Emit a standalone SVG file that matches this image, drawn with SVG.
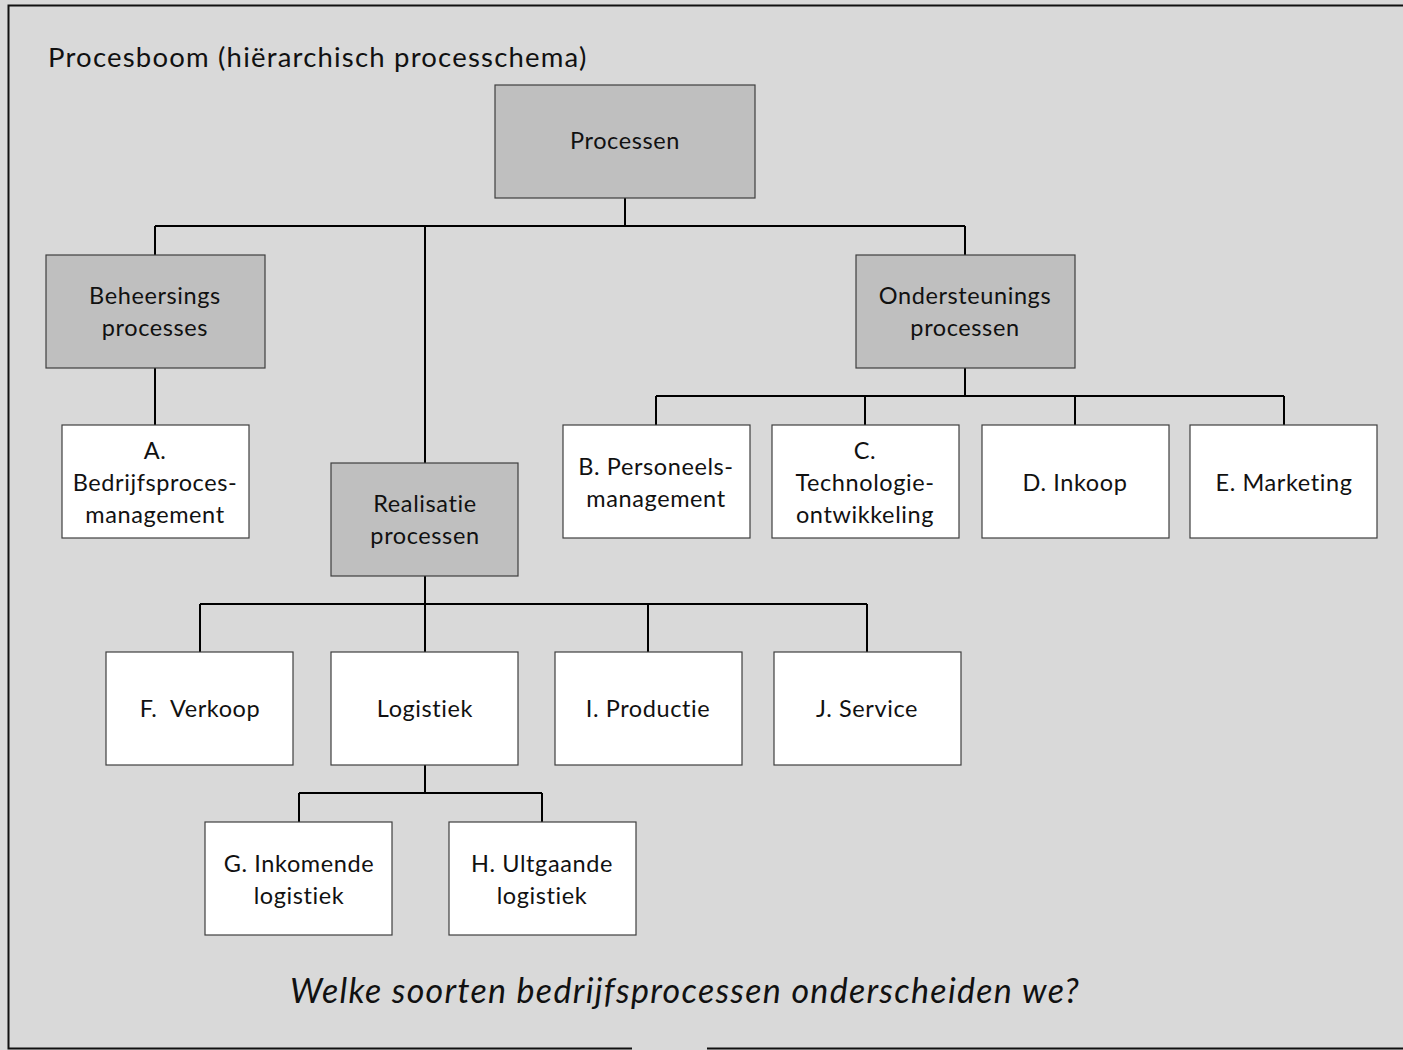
<svg xmlns="http://www.w3.org/2000/svg" width="1403" height="1050" viewBox="0 0 1403 1050">
<style>
.bg{fill:#d9d9d9}
.frame{fill:none;stroke:#111;stroke-width:2}
.n rect{stroke:#3f3f3f;stroke-width:1.2}
.dark rect{fill:#bfbfbf}
.light rect{fill:#ffffff}
.n text{font-family:Lato,"Open Sans",sans-serif;font-size:23.5px;letter-spacing:0.6px;fill:#111;text-anchor:middle}
.c{fill:none;stroke:#000;stroke-width:2}
.title{font-family:Lato,"Open Sans",sans-serif;font-size:27.5px;letter-spacing:1.2px;fill:#111}
.q{font-family:Lato,"Open Sans",sans-serif;font-size:34px;letter-spacing:1.3px;font-style:italic;fill:#111;text-anchor:middle}
</style>
<rect class="bg" x="0" y="0" width="1403" height="1050"/>
<path class="frame" d="M632,1048.5 H8.5 V5.5 H1403 M707,1048.5 H1403"/>
<text class="title" x="48" y="67">Procesboom (hiërarchisch processchema)</text>
<g id="connectors">
<path class="c" d="M625,198 V226 M155,226 H965 M155,226 V255 M425,226 V463 M965,226 V255"/>
<path class="c" d="M155,368 V425"/>
<path class="c" d="M965,368 V396 M656,396 H1284 M656,396 V425 M865,396 V425 M1075,396 V425 M1284,396 V425"/>
<path class="c" d="M425,576 V604 M200,604 H867 M200,604 V652 M425,604 V652 M648,604 V652 M867,604 V652"/>
<path class="c" d="M425,765 V793 M299,793 H542 M299,793 V822 M542,793 V822"/>
</g>
<g id="processen" class="n dark"><rect x="495" y="85" width="260" height="113"/><text x="625" y="149">Processen</text></g>
<g id="beheersings" class="n dark"><rect x="46" y="255" width="219" height="113"/><text x="155" y="304">Beheersings</text><text x="155" y="336">processes</text></g>
<g id="ondersteunings" class="n dark"><rect x="856" y="255" width="219" height="113"/><text x="965" y="304">Ondersteunings</text><text x="965" y="336">processen</text></g>
<g id="realisatie" class="n dark"><rect x="331" y="463" width="187" height="113"/><text x="425" y="512">Realisatie</text><text x="425" y="544">processen</text></g>
<g id="a" class="n light"><rect x="62" y="425" width="187" height="113"/><text x="155" y="459">A.</text><text x="155" y="491">Bedrijfsproces-</text><text x="155" y="523">management</text></g>
<g id="b" class="n light"><rect x="563" y="425" width="187" height="113"/><text x="656" y="475">B. Personeels-</text><text x="656" y="507">management</text></g>
<g id="c" class="n light"><rect x="772" y="425" width="187" height="113"/><text x="865" y="459">C.</text><text x="865" y="491">Technologie-</text><text x="865" y="523">ontwikkeling</text></g>
<g id="d" class="n light"><rect x="982" y="425" width="187" height="113"/><text x="1075" y="491">D. Inkoop</text></g>
<g id="e" class="n light"><rect x="1190" y="425" width="187" height="113"/><text x="1284" y="491">E. Marketing</text></g>
<g id="f" class="n light"><rect x="106" y="652" width="187" height="113"/><text x="200" y="717" xml:space="preserve">F.  Verkoop</text></g>
<g id="logistiek" class="n light"><rect x="331" y="652" width="187" height="113"/><text x="425" y="717">Logistiek</text></g>
<g id="i" class="n light"><rect x="555" y="652" width="187" height="113"/><text x="648" y="717">I. Productie</text></g>
<g id="j" class="n light"><rect x="774" y="652" width="187" height="113"/><text x="867" y="717">J. Service</text></g>
<g id="g" class="n light"><rect x="205" y="822" width="187" height="113"/><text x="299" y="872">G. Inkomende</text><text x="299" y="904">logistiek</text></g>
<g id="h" class="n light"><rect x="449" y="822" width="187" height="113"/><text x="542" y="872">H. Ultgaande</text><text x="542" y="904">logistiek</text></g>
<text class="q" x="685" y="1003">Welke soorten bedrijfsprocessen onderscheiden we?</text>
</svg>
